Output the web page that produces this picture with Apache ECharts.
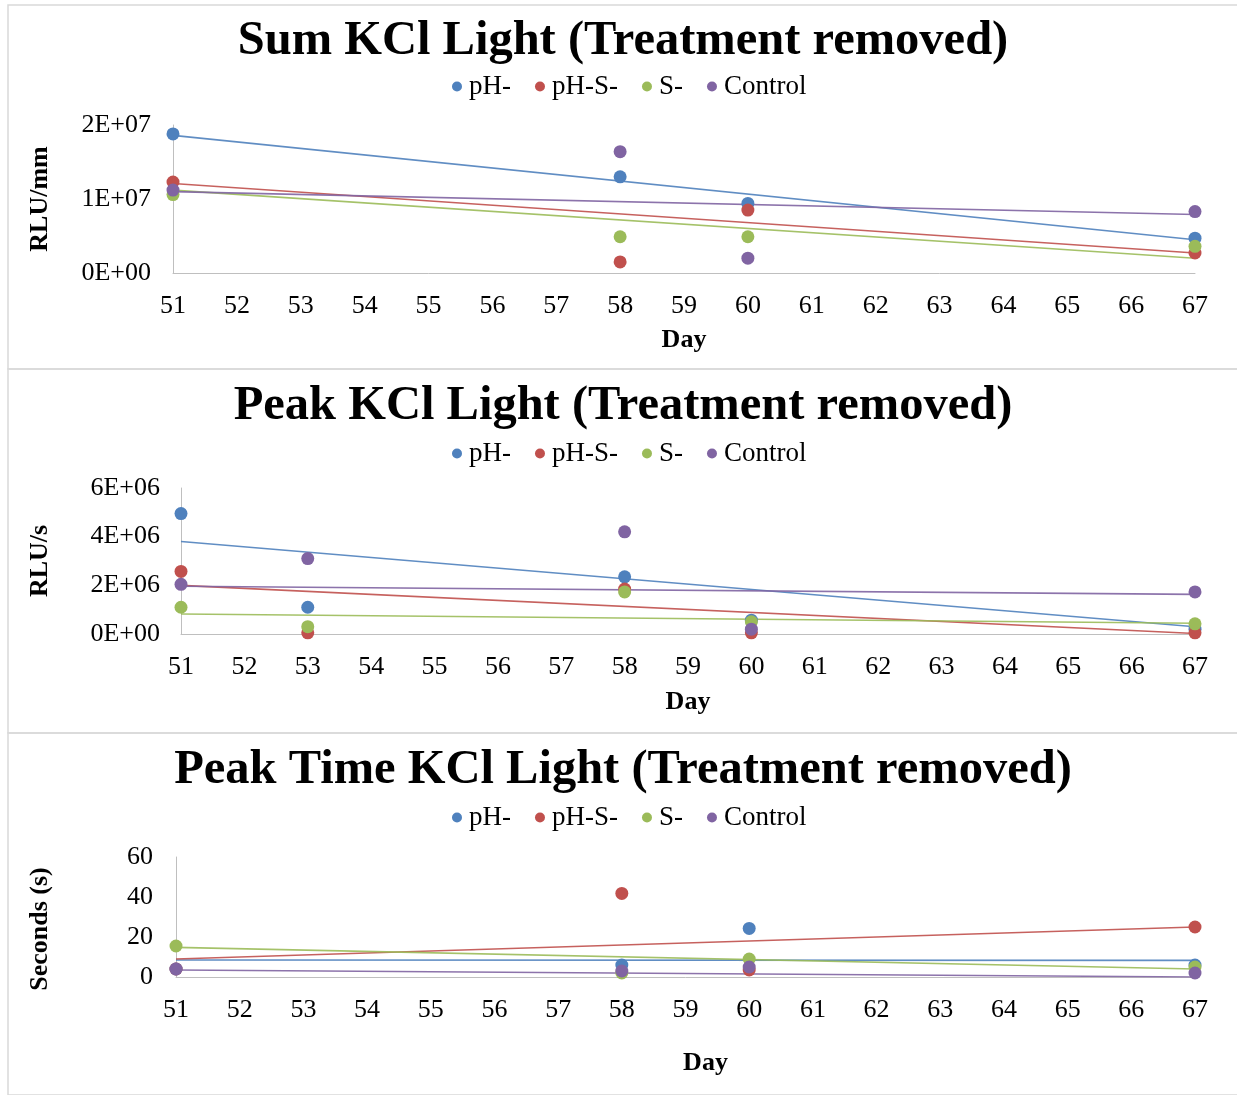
<!DOCTYPE html>
<html>
<head>
<meta charset="utf-8">
<script src="https://cdn.jsdelivr.net/npm/echarts@6/dist/echarts.min.js"></script>
<style>
html,body{margin:0;padding:0;background:#fff;}
#main{width:1237px;height:1095px;}
</style>
</head>
<body>
<div id="main"></div>
<script>
// ---- Data ----
const seriesNames = ['pH-', 'pH-S-', 'S-', 'Control'];
const colors = ['#4F81BD', '#C0504D', '#9BBB59', '#8064A2'];

// Chart 1: Sum KCl Light
const sumDays = [51, 58, 60, 67];
const sumPH   = [1.88e7, 1.30e7, 0.94e7, 0.47e7];
const sumPHS  = [1.23e7, 0.15e7, 0.85e7, 0.27e7];
const sumS    = [1.06e7, 0.49e7, 0.49e7, 0.36e7];
const sumCtrl = [1.12e7, 1.64e7, 0.20e7, 0.83e7];
const sumTrendDays = [51, 67];
const sumTrendPH   = [1.86e7, 0.45e7];
const sumTrendPHS  = [1.21e7, 0.27e7];
const sumTrendS    = [1.12e7, 0.20e7];
const sumTrendCtrl = [1.10e7, 0.79e7];
const sumTicks = ['0E+00', '1E+07', '2E+07'];

// Chart 2: Peak KCl Light
const peakDays = [51, 53, 58, 60, 67];
const peakPH   = [4.95e6, 1.10e6, 2.35e6, 0.57e6, 0.20e6];
const peakPHS  = [2.57e6, 0.05e6, 1.85e6, 0.05e6, 0.05e6];
const peakS    = [1.10e6, 0.30e6, 1.73e6, 0.50e6, 0.42e6];
const peakCtrl = [2.04e6, 3.10e6, 4.20e6, 0.20e6, 1.73e6];
const peakTrendDays = [51, 67];
const peakTrendPH   = [3.80e6, 0.30e6];
const peakTrendPHS  = [2.00e6, 0.02e6];
const peakTrendS    = [0.82e6, 0.44e6];
const peakTrendCtrl = [1.96e6, 1.63e6];
const peakTicks = ['0E+00', '2E+06', '4E+06', '6E+06'];

// Chart 3: Peak Time KCl Light
const timeDays = [51, 58, 60, 67];
const timePH   = [4, 6, 24.3, 6];
const timePHS  = [4, 41.8, 3.5, 25];
const timeS    = [15.5, 2, 9, 5];
const timeCtrl = [4, 3, 5, 2];
const timeTrendDays = [51, 67];
const timeTrendPH   = [8.5, 8.3];
const timeTrendPHS  = [9, 25];
const timeTrendS    = [14.8, 4];
const timeTrendCtrl = [3.5, 0];
const timeTicks = ['0', '20', '40', '60'];

const titles = [
  'Sum KCl Light (Treatment removed)',
  'Peak KCl Light (Treatment removed)',
  'Peak Time KCl Light (Treatment removed)'
];
const yNames = ['RLU/mm', 'RLU/s', 'Seconds (s)'];
const xName = 'Day';

// ---- Build option ----
const FONT = '"Liberation Serif", "Times New Roman", serif';
const zip = (xs, ys) => xs.map((x, i) => [x, ys[i]]);

const panels = [
  { days: sumDays, vals: [sumPH, sumPHS, sumS, sumCtrl], tdays: sumTrendDays,
    trends: [sumTrendPH, sumTrendPHS, sumTrendS, sumTrendCtrl], ticks: sumTicks,
    max: 2e7, interval: 1e7,
    grid: { left: 173, top: 125, width: 1022, height: 148 },
    titleTop: 12, legendTop: 68, yGap: 120, yPad: 0, xGap: 54, xPad: 0, ylMargin: 22 },
  { days: peakDays, vals: [peakPH, peakPHS, peakS, peakCtrl], tdays: peakTrendDays,
    trends: [peakTrendPH, peakTrendPHS, peakTrendS, peakTrendCtrl], ticks: peakTicks,
    max: 6e6, interval: 2e6,
    grid: { left: 181, top: 488, width: 1014, height: 146 },
    titleTop: 377, legendTop: 435, yGap: 128, yPad: 0, xGap: 55, xPad: 0, ylMargin: 21 },
  { days: timeDays, vals: [timePH, timePHS, timeS, timeCtrl], tdays: timeTrendDays,
    trends: [timeTrendPH, timeTrendPHS, timeTrendS, timeTrendCtrl], ticks: timeTicks,
    max: 60, interval: 20,
    grid: { left: 176, top: 857, width: 1019, height: 120 },
    titleTop: 741, legendTop: 799, yGap: 123, yPad: 24, xGap: 73, xPad: 40, ylMargin: 23 }
];

const option = {
  animation: false,
  backgroundColor: '#fff',
  title: [], legend: [], grid: [], xAxis: [], yAxis: [], series: [],
  graphic: [
    { type: 'rect', shape: { x: 8, y: 5, width: 1240, height: 364 }, style: { fill: 'none', stroke: '#d9d9d9', lineWidth: 1.5 }, z: -1 },
    { type: 'rect', shape: { x: 8, y: 369, width: 1240, height: 364 }, style: { fill: 'none', stroke: '#d9d9d9', lineWidth: 1.5 }, z: -1 },
    { type: 'rect', shape: { x: 8, y: 733, width: 1240, height: 362 }, style: { fill: 'none', stroke: '#d9d9d9', lineWidth: 1.5 }, z: -1 }
  ]
};

panels.forEach((p, gi) => {
  option.title.push({
    text: titles[gi], left: 618, textAlign: 'center', top: p.titleTop,
    textStyle: { fontFamily: FONT, fontWeight: 'bold', fontSize: 48.5, color: '#000' }
  });
  option.legend.push({
    data: seriesNames, left: 447, top: p.legendTop, icon: 'circle',
    itemWidth: 10, itemHeight: 10, itemGap: 24,
    textStyle: { fontFamily: FONT, fontSize: 27, color: '#000', padding: [0, 0, 0, 2] }
  });
  option.grid.push(Object.assign({ containLabel: false }, p.grid));
  option.xAxis.push({
    type: 'value', gridIndex: gi, min: 51, max: 67, interval: 1,
    name: xName, nameLocation: 'middle', nameGap: p.xGap,
    nameTextStyle: { fontFamily: FONT, fontWeight: 'bold', fontSize: 26, color: '#000', padding: [0, 0, 0, p.xPad] },
    axisLine: { show: true, lineStyle: { color: '#bfbfbf', width: 1 } },
    axisTick: { show: false }, splitLine: { show: false },
    axisLabel: { margin: 20, fontFamily: FONT, fontSize: 26, color: '#000' }
  });
  const ticks = p.ticks, iv = p.interval;
  option.yAxis.push({
    type: 'value', gridIndex: gi, min: 0, max: p.max, interval: iv,
    name: yNames[gi], nameLocation: 'middle', nameGap: p.yGap, nameRotate: 90,
    nameTextStyle: { fontFamily: FONT, fontWeight: 'bold', fontSize: 26, color: '#000', padding: [0, p.yPad, 0, 0] },
    axisLine: { show: true, lineStyle: { color: '#bfbfbf', width: 1 } },
    axisTick: { show: false }, splitLine: { show: false },
    axisLabel: { margin: p.ylMargin, fontFamily: FONT, fontSize: 26, color: '#000',
      formatter: v => ticks[Math.round(v / iv)] }
  });
  seriesNames.forEach((nm, si) => {
    option.series.push({
      type: 'line', name: nm + ' trend', xAxisIndex: gi, yAxisIndex: gi,
      data: zip(p.tdays, p.trends[si]), showSymbol: false, symbol: 'none',
      lineStyle: { color: colors[si], width: 1.6, opacity: 0.9 }, z: 2, silent: true
    });
  });
  seriesNames.forEach((nm, si) => {
    option.series.push({
      type: 'scatter', name: nm, xAxisIndex: gi, yAxisIndex: gi,
      data: zip(p.days, p.vals[si]), symbol: 'circle', symbolSize: 13,
      itemStyle: { color: colors[si], opacity: 1 }, z: 3
    });
  });
});

const chart = echarts.init(document.getElementById('main'), null, { renderer: 'canvas' });
chart.setOption(option);
</script>
</body>
</html>
